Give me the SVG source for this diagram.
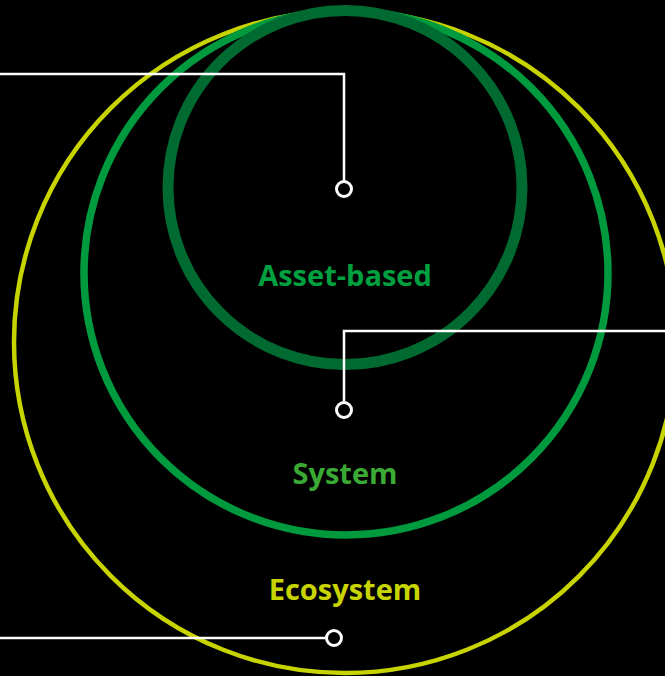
<svg xmlns="http://www.w3.org/2000/svg" width="665" height="676" viewBox="0 0 665 676">
<style>
.ring{fill:none}
.lbl{font-family:"Open Sans","Noto Sans",sans-serif;font-weight:bold;font-size:29px;text-anchor:middle}
.conn{fill:none;stroke:#fff;stroke-width:2.5}
.dot{fill:#000;stroke:#fff;stroke-width:3}
</style>
<rect width="665" height="676" fill="#000"/>
<g id="ecosystem">
<circle class="ring" cx="345" cy="342" r="331" stroke="#c8d400" stroke-width="4.5"/>
<text class="lbl" x="345" y="600" fill="#c8d400">Ecosystem</text>
</g>
<g id="system">
<circle class="ring" cx="346" cy="273" r="262" stroke="#009a3e" stroke-width="7.5"/>
<text class="lbl" x="345" y="484" fill="#3aaa35">System</text>
</g>
<g id="asset-based">
<circle class="ring" cx="345" cy="187.5" r="177" stroke="#006a30" stroke-width="11"/>
<text class="lbl" x="345" y="286" fill="#00a040">Asset-based</text>
</g>
<g id="connectors">
<polyline class="conn" points="0,74 344,74 344,181"/>
<polyline class="conn" points="665,331 344,331 344,402"/>
<polyline class="conn" points="0,638 326,638"/>
<circle class="dot" cx="344" cy="189" r="7.5"/>
<circle class="dot" cx="344" cy="410" r="7.5"/>
<circle class="dot" cx="334" cy="638" r="7.5"/>
</g>
</svg>
